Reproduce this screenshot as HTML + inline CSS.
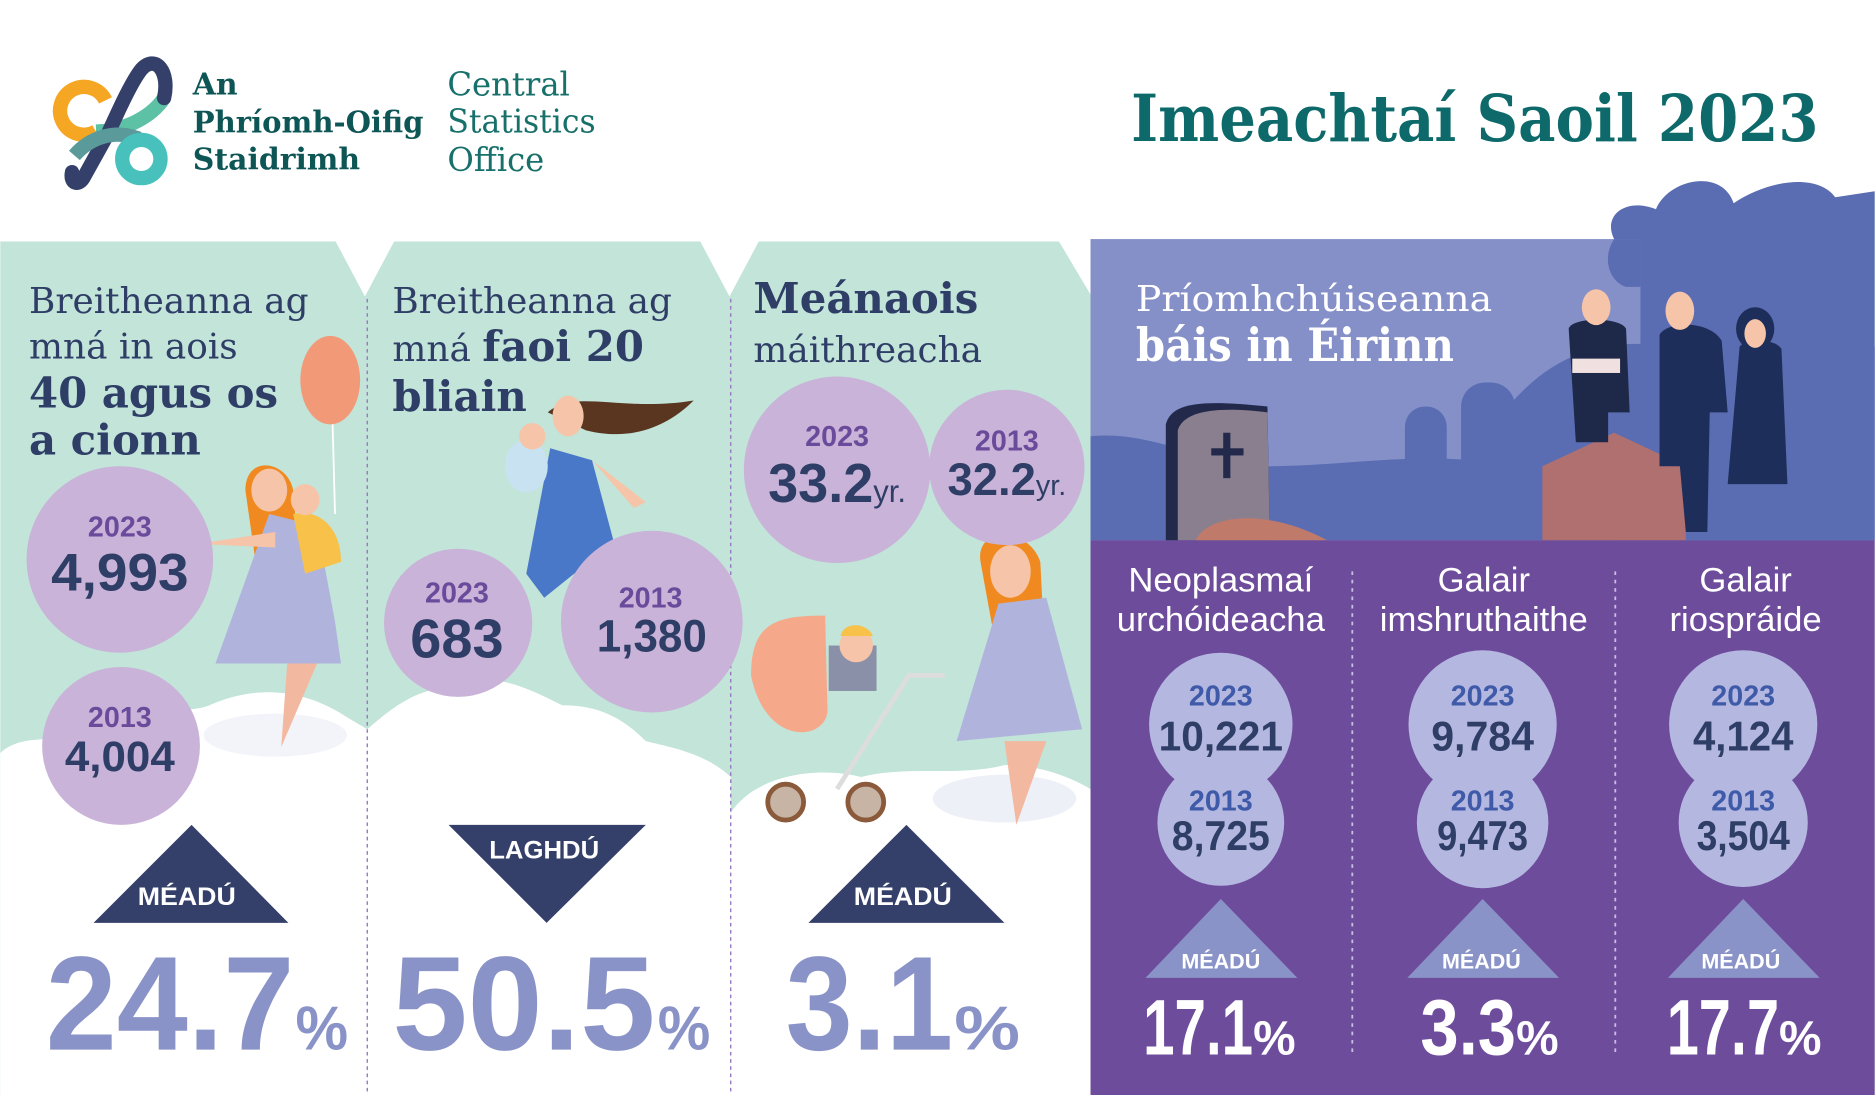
<!DOCTYPE html>
<html><head><meta charset="utf-8"><style>
html,body{margin:0;padding:0;background:#fff;width:1875px;height:1095px;overflow:hidden}
svg{display:block}
.ser{font-family:"DejaVu Serif","Liberation Serif",serif}
.sans{font-family:"Liberation Sans","DejaVu Sans",sans-serif}
</style></head><body>
<svg width="1875" height="1095" viewBox="0 0 1568 916" xmlns="http://www.w3.org/2000/svg">
<rect width="1568" height="916" fill="#fff"/>
<!-- logo -->
<g fill="none" stroke-linecap="butt">
<path d="M88,84 A20,20 0 1 0 80,110" stroke="#f5a623" stroke-width="12"/>
<path d="M80,110 C100,110 125,100 137,82" stroke="#5dc1a5" stroke-width="12"/>
<path d="M137,82 C142,60 130,45 118,58 C110,68 100,90 90,112 L70,148 C66,156 58,154 60,144" stroke="#34406a" stroke-width="12" stroke-linecap="round"/>
<path d="M62,130 C75,115 95,108 116,116" stroke="#5a9a9a" stroke-width="12"/>
<circle cx="118" cy="133" r="16" stroke="#48c1bd" stroke-width="12"/>
</g>
<g class="ser" fill="#0e5555" font-weight="bold" font-size="25">
<text x="161" y="79">An</text><text x="161" y="111" textLength="193" lengthAdjust="spacingAndGlyphs">Phríomh-Oifig</text><text x="161" y="142">Staidrimh</text>
</g>
<g class="ser" fill="#17706a" font-size="27" font-weight="300">
<text x="374" y="80">Central</text><text x="374" y="111" textLength="124" lengthAdjust="spacingAndGlyphs">Statistics</text><text x="374" y="143">Office</text>
</g>
<text x="1521" y="118" text-anchor="end" class="ser" font-weight="bold" font-size="54" fill="#0e6a6a" textLength="575" lengthAdjust="spacingAndGlyphs">Imeachtaí Saoil 2023</text>

<!-- mint panels -->
<rect x="0" y="202" width="912" height="714" fill="#c2e4d9"/>
<polygon points="280,201 330,201 305,248" fill="#fff"/>
<polygon points="585,201 635,201 610,248" fill="#fff"/>
<polygon points="885,201 913,201 913,248" fill="#fff"/>
<!-- clouds -->
<g fill="#fff">
<path d="M0,630 C20,610 60,625 80,610 C110,585 150,600 175,590 C220,570 260,580 290,600 L307,610 L307,916 L0,916Z"/>
<path d="M307,610 C330,590 350,575 380,575 C410,560 440,575 470,590 C500,590 520,600 540,620 C560,625 590,630 611,650 L611,916 L307,916Z"/>
<path d="M611,680 C630,650 680,640 720,650 C760,640 800,650 840,640 C870,640 895,650 912,660 L912,916 L611,916Z"/>
</g>
<ellipse cx="230" cy="615" rx="60" ry="18" fill="#f3f4f9"/>
<ellipse cx="840" cy="668" rx="60" ry="20" fill="#eef0f7"/>
<g stroke="#9a7ac0" stroke-width="1.2" stroke-dasharray="3,3"><line x1="307" y1="250" x2="307" y2="916"/><line x1="611" y1="250" x2="611" y2="916"/></g>

<!-- illustrations (simplified) -->
<ellipse cx="276" cy="318" rx="25" ry="37" fill="#f29a78"/><line x1="278" y1="355" x2="280" y2="430" stroke="#fff" stroke-width="1.5"/>
<path d="M205,410 C205,380 240,385 245,410 L250,470 L215,480Z" fill="#f08a20"/>
<ellipse cx="225" cy="410" rx="15" ry="18" fill="#f6c4a8"/>
<path d="M225,430 L265,440 L280,520 L285,555 L180,555 Z" fill="#b0b4dd"/>
<path d="M245,430 C265,425 285,440 285,470 L255,480Z" fill="#f8c14a"/>
<ellipse cx="255" cy="418" rx="12" ry="13" fill="#f6c4a8"/>
<path d="M165,455 L230,445 L230,458 Z" fill="#f6c4a8"/>
<path d="M240,555 L265,555 L235,625 Z" fill="#f2b8a0"/>
<path d="M458,345 C480,325 520,345 580,335 C560,355 530,370 490,360Z" fill="#5a3620"/>
<ellipse cx="475" cy="348" rx="13" ry="17" fill="#f6c4a8"/>
<path d="M460,375 L495,385 L515,460 L480,480 L455,500 L440,480 Z" fill="#4a78c8"/>
<path d="M495,385 L540,420 L530,425 Z" fill="#f6c4a8"/>
<ellipse cx="440" cy="390" rx="18" ry="22" fill="#c8e2f2"/><ellipse cx="445" cy="365" rx="11" ry="11" fill="#f6c4a8"/>
<path d="M628,565 C628,520 650,515 690,515 L692,595 C690,620 640,625 628,565Z" fill="#f6a98a"/>
<rect x="693" y="540" width="40" height="38" fill="#8a90a8"/><ellipse cx="716" cy="540" rx="14" ry="14" fill="#f6c4a8"/><path d="M703,532 C705,520 725,520 730,532Z" fill="#f8c14a"/>
<path d="M700,660 L760,565 L790,565" stroke="#ddd" stroke-width="4" fill="none"/>
<circle cx="657" cy="671" r="15" fill="#c8b4a4" stroke="#8a5a3a" stroke-width="4"/>
<circle cx="724" cy="671" r="15" fill="#c8b4a4" stroke="#8a5a3a" stroke-width="4"/>
<path d="M820,470 C815,440 860,440 870,470 L875,570 L840,580Z" fill="#f08a20"/>
<ellipse cx="845" cy="478" rx="17" ry="22" fill="#f6c4a8"/>
<path d="M835,505 L875,500 L905,610 L800,620 Z" fill="#b0b4dd"/>
<path d="M840,620 L875,620 L850,690 Z" fill="#f2b8a0"/>

<!-- panel text -->
<g class="ser" fill="#2f3e66" font-size="30">
<text x="24" y="262">Breitheanna ag</text><text x="24" y="300">mná in aois</text>
<text x="24" y="341" font-weight="bold" font-size="35">40 agus os</text><text x="24" y="380" font-weight="bold" font-size="35">a cionn</text>
<text x="328" y="262">Breitheanna ag</text><text x="328" y="302">mná <tspan font-weight="bold" font-size="35">faoi 20</tspan></text>
<text x="328" y="344" font-weight="bold" font-size="35">bliain</text>
<text x="630" y="262" font-weight="bold" font-size="35">Meánaois</text><text x="630" y="303">máithreacha</text>
</g>
<g fill="#c9b3d8">
<circle cx="100" cy="468" r="78"/><circle cx="101" cy="624" r="66"/>
<circle cx="383" cy="521" r="62"/><circle cx="545" cy="520" r="76"/>
<circle cx="700" cy="393" r="78"/><circle cx="842" cy="391" r="65"/>
</g>
<g class="sans" text-anchor="middle" font-weight="bold">
<g fill="#6a4a9a" font-size="24">
<text x="100" y="449">2023</text><text x="100" y="608">2013</text><text x="382" y="504">2023</text><text x="544" y="508">2013</text><text x="700" y="373">2023</text><text x="842" y="377">2013</text>
</g>
<g fill="#2f3e66">
<text x="100" y="494" font-size="44" textLength="115" lengthAdjust="spacingAndGlyphs">4,993</text>
<text x="100" y="645" font-size="36" textLength="92" lengthAdjust="spacingAndGlyphs">4,004</text>
<text x="382" y="550" font-size="46" textLength="78" lengthAdjust="spacingAndGlyphs">683</text>
<text x="545" y="545" font-size="38" textLength="92" lengthAdjust="spacingAndGlyphs">1,380</text>
<text x="700" y="420" font-size="46"><tspan textLength="88" lengthAdjust="spacingAndGlyphs">33.2</tspan><tspan font-size="26" font-weight="normal">yr.</tspan></text>
<text x="842" y="414" font-size="38"><tspan textLength="74" lengthAdjust="spacingAndGlyphs">32.2</tspan><tspan font-size="24" font-weight="normal">yr.</tspan></text>
</g>
</g>
<g fill="#34406a">
<polygon points="78,772 241,772 160,690"/><polygon points="375,690 540,690 457,772"/><polygon points="676,772 840,772 758,690"/>
</g>
<g class="sans" font-weight="bold" fill="#fff" font-size="21" text-anchor="middle">
<text x="156" y="757" textLength="82" lengthAdjust="spacingAndGlyphs">MÉADÚ</text>
<text x="455" y="718" textLength="92" lengthAdjust="spacingAndGlyphs">LAGHDÚ</text>
<text x="755" y="757" textLength="82" lengthAdjust="spacingAndGlyphs">MÉADÚ</text>
</g>
<g class="sans" font-weight="bold" fill="#8a93c7">
<text x="38" y="878" font-size="112" textLength="208" lengthAdjust="spacingAndGlyphs">24.7</text><text x="247" y="878" font-size="52" textLength="44" lengthAdjust="spacingAndGlyphs">%</text>
<text x="328" y="878" font-size="112" textLength="220" lengthAdjust="spacingAndGlyphs">50.5</text><text x="550" y="878" font-size="52" textLength="44" lengthAdjust="spacingAndGlyphs">%</text>
<text x="657" y="878" font-size="112" textLength="140" lengthAdjust="spacingAndGlyphs">3.1</text><text x="798" y="878" font-size="52" textLength="55" lengthAdjust="spacingAndGlyphs">%</text>
</g>

<!-- right section -->
<path d="M1350,200 C1340,180 1360,165 1385,175 C1395,150 1440,140 1450,170 C1480,150 1520,145 1535,165 L1568,160 L1568,452 L1350,452Z" fill="#5a6db3"/>
<rect x="912" y="200" width="460" height="252" fill="#8590c8"/>
<path d="M1372,200 L1350,200 C1340,215 1345,235 1360,240 L1372,240Z" fill="#5a6db3"/>
<path d="M912,365 C960,360 1000,385 1060,390 C1120,390 1170,380 1230,385 C1280,300 1330,280 1400,290 L1568,290 L1568,452 L912,452Z" fill="#5a6db3"/>
<rect x="1175" y="340" width="35" height="80" rx="17" fill="#5a6db3"/><rect x="1222" y="320" width="45" height="100" rx="20" fill="#5a6db3"/>
<path d="M975,452 L975,355 C980,335 1010,335 1060,340 L1062,452Z" fill="#22294a"/>
<path d="M985,452 L985,360 C990,343 1020,340 1060,345 L1062,452Z" fill="#8a7f8f"/>
<rect x="1023" y="362" width="6" height="38" fill="#22294a"/><rect x="1013" y="375" width="27" height="6" fill="#22294a"/>
<path d="M1000,452 C1010,430 1060,425 1110,452Z" fill="#c07a6a"/>
<path d="M1290,390 L1350,362 L1410,390 L1410,452 L1290,452Z" fill="#b07070"/>
<path d="M1312,275 C1315,265 1355,265 1360,275 L1363,345 L1345,345 L1345,370 L1318,370 Z" fill="#1e2848"/><ellipse cx="1335" cy="257" rx="12" ry="15" fill="#f6c4a8"/>
<rect x="1315" y="300" width="40" height="12" fill="#f0e0e0"/>
<path d="M1388,280 C1395,268 1430,268 1440,285 L1445,345 L1430,345 L1428,445 L1410,445 L1405,390 L1388,390Z" fill="#1e2e5a"/><ellipse cx="1405" cy="260" rx="12" ry="16" fill="#f6c4a8"/>
<path d="M1455,290 C1460,283 1485,283 1490,292 L1495,405 L1445,405Z" fill="#1e2e5a"/><ellipse cx="1468" cy="275" rx="16" ry="18" fill="#1e2e5a"/><ellipse cx="1468" cy="279" rx="9" ry="12" fill="#f6c4a8"/>
<text x="950" y="260" class="ser" fill="#fff" font-size="30" textLength="298" lengthAdjust="spacingAndGlyphs">Príomhchúiseanna</text>
<text x="950" y="302" class="ser" fill="#fff" font-size="38" font-weight="bold" textLength="266" lengthAdjust="spacingAndGlyphs">báis in Éirinn</text>

<rect x="912" y="452" width="656" height="464" fill="#6e4c9c"/>
<g stroke="#c9c0e0" stroke-width="1.5" stroke-dasharray="3,4"><line x1="1131" y1="478" x2="1131" y2="882"/><line x1="1351" y1="478" x2="1351" y2="882"/></g>
<g class="sans" fill="#fff" font-size="29" text-anchor="middle">
<text x="1021" y="495">Neoplasmaí</text><text x="1021" y="528">urchóideacha</text>
<text x="1241" y="495">Galair</text><text x="1241" y="528">imshruthaithe</text>
<text x="1460" y="495">Galair</text><text x="1460" y="528">riospráide</text>
</g>
<g fill="#b4b8e0">
<circle cx="1021" cy="606" r="60"/><circle cx="1021" cy="688" r="53"/>
<circle cx="1240" cy="606" r="62"/><circle cx="1240" cy="688" r="55"/>
<circle cx="1458" cy="606" r="62"/><circle cx="1458" cy="688" r="54"/>
</g>
<g class="sans" font-weight="bold" text-anchor="middle">
<g fill="#3e5aa8" font-size="24">
<text x="1021" y="590">2023</text><text x="1021" y="678">2013</text>
<text x="1240" y="590">2023</text><text x="1240" y="678">2013</text>
<text x="1458" y="590">2023</text><text x="1458" y="678">2013</text>
</g>
<g fill="#2f3e66" font-size="35">
<text x="1021" y="628" textLength="104" lengthAdjust="spacingAndGlyphs">10,221</text><text x="1021" y="711" textLength="82" lengthAdjust="spacingAndGlyphs">8,725</text>
<text x="1240" y="628" textLength="86" lengthAdjust="spacingAndGlyphs">9,784</text><text x="1240" y="711" textLength="76" lengthAdjust="spacingAndGlyphs">9,473</text>
<text x="1458" y="628" textLength="84" lengthAdjust="spacingAndGlyphs">4,124</text><text x="1458" y="711" textLength="78" lengthAdjust="spacingAndGlyphs">3,504</text>
</g>
</g>
<g fill="#8a93c7">
<polygon points="958,818 1085,818 1021,752"/><polygon points="1177,818 1304,818 1240,752"/><polygon points="1395,818 1522,818 1458,752"/>
</g>
<g class="sans" font-weight="bold" fill="#fff" font-size="18" text-anchor="middle">
<text x="1021" y="810">MÉADÚ</text><text x="1239" y="810">MÉADÚ</text><text x="1456" y="810">MÉADÚ</text>
</g>
<g class="sans" font-weight="bold" fill="#fff">
<text x="956" y="882" font-size="66" textLength="92" lengthAdjust="spacingAndGlyphs">17.1</text><text x="1048" y="882" font-size="40">%</text>
<text x="1188" y="882" font-size="66" textLength="80" lengthAdjust="spacingAndGlyphs">3.3</text><text x="1268" y="882" font-size="40">%</text>
<text x="1394" y="882" font-size="66" textLength="94" lengthAdjust="spacingAndGlyphs">17.7</text><text x="1488" y="882" font-size="40">%</text>
</g>
</svg>
</body></html>
